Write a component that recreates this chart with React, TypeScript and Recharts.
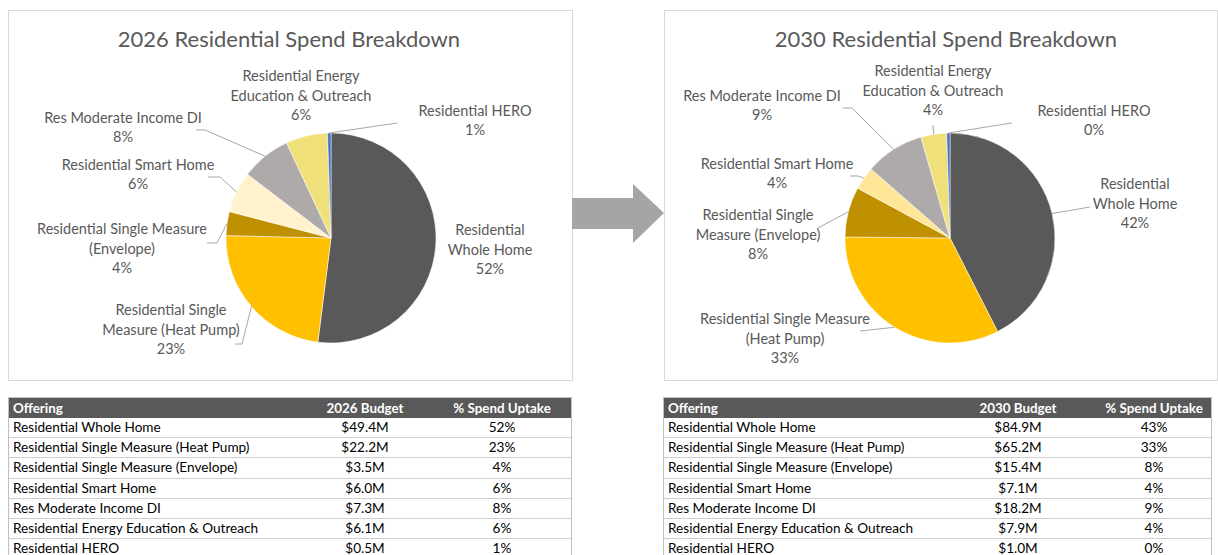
import React from 'react';
import { PieChart, Pie, Cell } from 'recharts';

const offerings = [
  'Residential Whole Home',
  'Residential Single Measure (Heat Pump)',
  'Residential Single Measure (Envelope)',
  'Residential Smart Home',
  'Res Moderate Income DI',
  'Residential Energy Education & Outreach',
  'Residential HERO',
];
const budget2026 = [49.4, 22.2, 3.5, 6.0, 7.3, 6.1, 0.5];
const uptake2026 = [52, 23, 4, 6, 8, 6, 1];
const budget2030 = [84.9, 65.2, 15.4, 7.1, 18.2, 7.9, 1.0];
const uptake2030 = [43, 33, 8, 4, 9, 4, 0];

// pie label text, as wrapped in each chart
const pieNames2026 = [
  ['Residential', 'Whole Home'],
  ['Residential Single', 'Measure (Heat Pump)'],
  ['Residential Single Measure', '(Envelope)'],
  ['Residential Smart Home'],
  ['Res Moderate Income DI'],
  ['Residential Energy', 'Education & Outreach'],
  ['Residential HERO'],
];
const piePct2026 = [52, 23, 4, 6, 8, 6, 1];
const pieNames2030 = [
  ['Residential', 'Whole Home'],
  ['Residential Single Measure', '(Heat Pump)'],
  ['Residential Single', 'Measure (Envelope)'],
  ['Residential Smart Home'],
  ['Res Moderate Income DI'],
  ['Residential Energy', 'Education & Outreach'],
  ['Residential HERO'],
];
const piePct2030 = [42, 33, 8, 4, 9, 4, 0];

const colors2026 = ['#595959', '#FFC000', '#BF9000', '#FFF2CC', '#AEAAAA', '#F0E07A', '#4472C4'];
const colors2030 = ['#595959', '#FFC000', '#BF9000', '#FFE699', '#AEAAAA', '#F0E07A', '#4472C4'];

type Pt = [number, number];
type LabelPos = { c: Pt; lead?: Pt[] };

// label block centres and leader-line start points, relative to the pie centre
const layout2026: LabelPos[] = [
  { c: [159, 11] },
  { c: [-160, 91], lead: [[-96, 106], [-89, 106]] },
  { c: [-209, 10], lead: [[-124, 5], [-114, 5]] },
  { c: [-193, -64], lead: [[-123, -61], [-111, -61]] },
  { c: [-208, -111], lead: [[-135, -108], [-126, -108]] },
  { c: [-30, -143] },
  { c: [144, -118], lead: [[66, -115]] },
];
const layout2030: LabelPos[] = [
  { c: [185, -35], lead: [[140, -31]] },
  { c: [-165, 100], lead: [[-90, 93]] },
  { c: [-192, -4], lead: [[-132, -10]] },
  { c: [-173, -65], lead: [[-100, -62], [-92, -62]] },
  { c: [-188, -133], lead: [[-107, -130], [-98, -130]] },
  { c: [-17, -148], lead: [[-17, -113]] },
  { c: [144, -118], lead: [[62, -115]] },
];

const FONT = 'Lato, "Open Sans", sans-serif';
const TEXT = '#595959';
const LINE_H = 19.5;
const RAD = Math.PI / 180;

const makeLabel = (layout: LabelPos[], names: string[][], pcts: number[]) => (props: any) => {
  const { cx, cy, midAngle, outerRadius, index } = props;
  const pos = layout[index];
  const lines = [...names[index], `${pcts[index]}%`];
  const top = cy + pos.c[1] - ((lines.length - 1) * LINE_H) / 2;
  const ex = cx + outerRadius * Math.cos(-midAngle * RAD);
  const ey = cy + outerRadius * Math.sin(-midAngle * RAD);
  const pts = pos.lead
    ? [...pos.lead.map(([x, y]) => `${cx + x},${cy + y}`), `${ex},${ey}`].join(' ')
    : null;
  return (
    <g>
      {pts && <polyline points={pts} fill="none" stroke="#A6A6A6" strokeWidth={1} />}
      {lines.map((t, i) => (
        <text
          key={i}
          x={cx + pos.c[0]}
          y={top + i * LINE_H}
          textAnchor="middle"
          dominantBaseline="central"
          fill={TEXT}
          fontSize={14.5}
          fontFamily={FONT}
        >
          {t}
        </text>
      ))}
    </g>
  );
};

const data2026 = offerings.map((name, i) => ({ name, value: budget2026[i] }));
const data2030 = offerings.map((name, i) => ({ name, value: budget2030[i] }));

interface PanelProps {
  left: number;
  width: number;
  title: string;
  titleX: number;
  cx: number;
  data: { name: string; value: number }[];
  colors: string[];
  layout: LabelPos[];
  names: string[][];
  pcts: number[];
}

const PiePanel: React.FC<PanelProps> = ({ left, width, title, titleX, cx, data, colors, layout, names, pcts }) => (
  <div
    style={{
      position: 'absolute',
      left,
      top: 10,
      width,
      height: 371,
      boxSizing: 'border-box',
      border: '1px solid #D9D9D9',
      background: '#fff',
    }}
  >
    <div
      style={{
        position: 'absolute',
        left: titleX - 250,
        width: 500,
        top: 14,
        lineHeight: '28px',
        textAlign: 'center',
        fontFamily: FONT,
        fontSize: 22,
        color: TEXT,
      }}
    >
      {title}
    </div>
    <PieChart
      width={width - 2}
      height={369}
      margin={{ top: 0, right: 0, bottom: 0, left: 0 }}
      style={{ position: 'absolute', left: 0, top: 0 }}
    >
      <Pie
        data={data}
        dataKey="value"
        nameKey="name"
        cx={cx}
        cy={227}
        outerRadius={105}
        startAngle={90}
        endAngle={-270}
        stroke="#fff"
        strokeWidth={0.5}
        label={makeLabel(layout, names, pcts)}
        labelLine={false}
        isAnimationActive={false}
      >
        {data.map((d, i) => (
          <Cell key={d.name} fill={colors[i]} />
        ))}
      </Pie>
    </PieChart>
  </div>
);

interface TableProps {
  left: number;
  width: number;
  yearLabel: string;
  budgetX: number;
  uptakeX: number;
  budgets: number[];
  uptakes: number[];
}

const ROW_H = 20.2;

const BudgetTable: React.FC<TableProps> = ({ left, width, yearLabel, budgetX, uptakeX, budgets, uptakes }) => {
  const cell = (x: number): React.CSSProperties => ({
    position: 'absolute',
    left: x - 70,
    width: 140,
    textAlign: 'center',
  });
  const rows = offerings.map((o, i) => [o, `$${budgets[i].toFixed(1)}M`, `${uptakes[i]}%`]);
  return (
    <div
      style={{
        position: 'absolute',
        left,
        top: 397,
        width,
        height: 170,
        boxSizing: 'border-box',
        borderLeft: '1px solid #BFBFBF',
        borderRight: '1px solid #BFBFBF',
        borderTop: '1px solid #BFBFBF',
        fontFamily: FONT,
        fontSize: 13.6,
      }}
    >
      <div
        style={{
          position: 'relative',
          height: 20,
          lineHeight: '20px',
          background: '#595959',
          color: '#fff',
          fontWeight: 700,
          fontSize: 13.4,
        }}
      >
        <span style={{ position: 'absolute', left: 4 }}>Offering</span>
        <span style={cell(budgetX)}>{yearLabel} Budget</span>
        <span style={cell(uptakeX)}>% Spend Uptake</span>
      </div>
      {rows.map((r) => (
        <div
          key={r[0]}
          style={{
            position: 'relative',
            height: ROW_H,
            lineHeight: `${ROW_H - 1}px`,
            boxSizing: 'border-box',
            borderBottom: '1px solid #CFCFCF',
            color: '#000',
          }}
        >
          <span style={{ position: 'absolute', left: 4 }}>{r[0]}</span>
          <span style={cell(budgetX)}>{r[1]}</span>
          <span style={cell(uptakeX)}>{r[2]}</span>
        </div>
      ))}
    </div>
  );
};

export default function App() {
  return (
    <div
      style={{
        position: 'absolute',
        left: 0,
        top: 0,
        width: 1218,
        height: 555,
        overflow: 'hidden',
        background: '#fff',
      }}
    >
      <PiePanel
        left={8}
        width={565}
        title="2026 Residential Spend Breakdown"
        titleX={280}
        cx={322}
        data={data2026}
        colors={colors2026}
        layout={layout2026}
        names={pieNames2026}
        pcts={piePct2026}
      />
      <PiePanel
        left={664}
        width={554}
        title="2030 Residential Spend Breakdown"
        titleX={281}
        cx={285}
        data={data2030}
        colors={colors2030}
        layout={layout2030}
        names={pieNames2030}
        pcts={piePct2030}
      />
      <svg width={1218} height={555} style={{ position: 'absolute', left: 0, top: 0, pointerEvents: 'none' }}>
        <polygon points="572,198 633,198 633,184 664,213 633,243 633,229 572,229" fill="#A5A5A5" />
      </svg>
      <BudgetTable
        left={8}
        width={564}
        yearLabel="2026"
        budgetX={356}
        uptakeX={493}
        budgets={budget2026}
        uptakes={uptake2026}
      />
      <BudgetTable
        left={663}
        width={549}
        yearLabel="2030"
        budgetX={354}
        uptakeX={490}
        budgets={budget2030}
        uptakes={uptake2030}
      />
    </div>
  );
}
